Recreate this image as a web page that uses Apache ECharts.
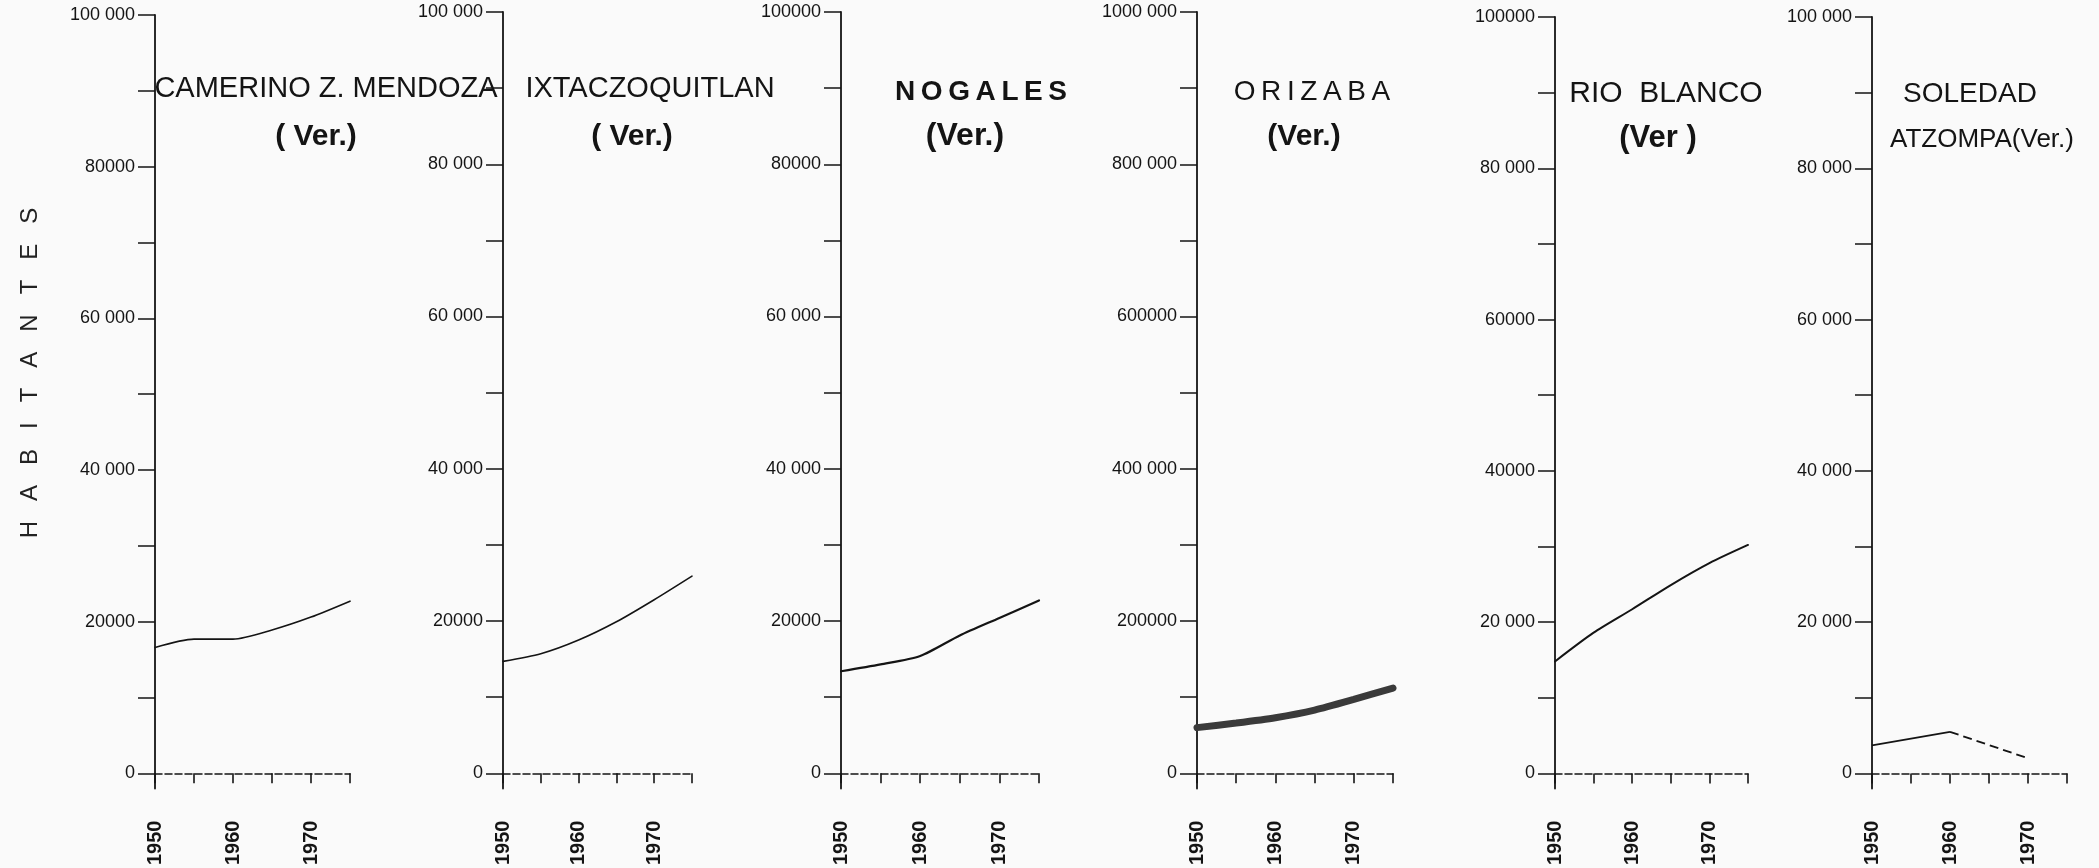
<!DOCTYPE html>
<html>
<head>
<meta charset="utf-8">
<script src="https://cdn.jsdelivr.net/npm/echarts@6/dist/echarts.min.js"></script>
<style>
  html, body { margin: 0; padding: 0; background: #fafafa; }
  #chart { width: 2099px; height: 868px; }
</style>
</head>
<body>
<div id="chart"></div>
<script>
// ---- data ----
const years = [1950, 1955, 1960, 1965, 1970, 1975];
const camerinoPop  = [16600, 17700, 17700, 18900, 20600, 22700];
const ixtacPop     = [14700, 15700, 17500, 19900, 22800, 25900];
const nogalesPop   = [13400, 14300, 15400, 18100, 20400, 22700];
const orizabaPop   = [60000, 66000, 73000, 83000, 97000, 112000];
const rioBlancoPop = [14800, 18600, 21700, 24900, 27800, 30200];
const soledadYears = [1950, 1960, 1970];
const soledadPop   = [3700, 5500, 2000];

const yearLabels = [1950, 1960, 1970];

const titleLine1 = ['CAMERINO Z. MENDOZA', 'IXTACZOQUITLAN', 'N\u2009O\u2009G\u2009A\u2009L\u2009E\u2009S',
                    'O\u2009R\u2009I\u2009Z\u2009A\u2009B\u2009A', 'RIO  BLANCO', 'SOLEDAD'];
const titleLine2 = ['( Ver.)', '( Ver.)', '(Ver.)', '(Ver.)', '(Ver )', 'ATZOMPA(Ver.)'];
const yAxisTitle = 'H   A   B   I   T   A   N   T   E   S';

// tick label texts as printed in each panel: 0, 1/5, 2/5 ... of the axis maximum
const yLabels = [
  ['0', '20000', '40 000', '60 000', '80000', '100 000'],
  ['0', '20000', '40 000', '60 000', '80 000', '100 000'],
  ['0', '20000', '40 000', '60 000', '80000', '100000'],
  ['0', '200000', '400 000', '600000', '800 000', '1000 000'],
  ['0', '20 000', '40000', '60000', '80 000', '100000'],
  ['0', '20 000', '40 000', '60 000', '80 000', '100 000']
];
const yMaxes = [100000, 100000, 100000, 1000000, 100000, 100000];

// ---- layout (pixels) ----
const panels = [
  { left: 155,  width: 195, top: 15, zeroY: 775 },
  { left: 503,  width: 189, top: 12, zeroY: 778 },
  { left: 841,  width: 198, top: 12, zeroY: 781 },
  { left: 1197, width: 196, top: 12, zeroY: 780 },
  { left: 1555, width: 193, top: 17, zeroY: 781 },
  { left: 1872, width: 195, top: 17, zeroY: 781 }
];
const titlePos = [
  { x1: 326,  y1: 89, x2: 316,  y2: 137, f1: 'normal 29px', f2: 'bold 30px' },
  { x1: 650,  y1: 89, x2: 632,  y2: 137, f1: 'normal 29px', f2: 'bold 30px' },
  { x1: 981,  y1: 92, x2: 965,  y2: 136, f1: 'bold 28px',   f2: 'bold 32px' },
  { x1: 1312, y1: 92, x2: 1304, y2: 137, f1: 'normal 28px', f2: 'bold 30px' },
  { x1: 1666, y1: 94, x2: 1658, y2: 138, f1: 'normal 30px', f2: 'bold 31px' },
  { x1: 1970, y1: 94, x2: 1982, y2: 140, f1: 'normal 28px', f2: 'normal 26px' }
];
const lineWidths = [1.6, 1.6, 2.2, 7, 2, 1.8];
const FONT = '"Liberation Sans", Arial, sans-serif';
const INK = '#141414';
const EXT = 0.02; // axis extends slightly below zero

const seriesPop = [camerinoPop, ixtacPop, nogalesPop, orizabaPop, rioBlancoPop];

const grids = [], xAxes = [], yAxes = [], series = [], graphics = [];

panels.forEach((p, i) => {
  const yMax = yMaxes[i];
  grids.push({
    left: p.left, top: p.top, width: p.width,
    height: (p.zeroY - p.top) * (1 + EXT)
  });
  xAxes.push({
    type: 'value', gridIndex: i, min: 1950, max: 1975, interval: 5,
    splitLine: { show: false },
    axisLine: { show: true, onZero: true, lineStyle: { color: INK, width: 1.5, type: [7, 3] } },
    axisTick: { show: true, length: 10, lineStyle: { color: INK, width: 1.6 } },
    axisLabel: {
      customValues: yearLabels, rotate: 90, margin: 32,
      fontSize: 20, fontWeight: 'bold', fontFamily: FONT, color: INK,
      formatter: v => String(v)
    }
  });
  const tickVals = [], labelVals = [];
  for (let k = 0; k <= 10; k++) tickVals.push(yMax * k / 10);
  for (let k = 0; k <= 5; k++) labelVals.push(yMax * k / 5);
  yAxes.push({
    type: 'value', gridIndex: i, min: -yMax * EXT, max: yMax,
    splitLine: { show: false },
    axisLine: { show: true, onZero: false, lineStyle: { color: INK, width: 1.8 } },
    axisTick: { show: true, customValues: tickVals, length: 17, lineStyle: { color: INK, width: 1.5 } },
    axisLabel: {
      customValues: labelVals, margin: 20,
      fontSize: 18, fontFamily: FONT, color: INK,
      formatter: v => {
        const idx = Math.round(v / (yMax / 5));
        return (Math.abs(v - idx * yMax / 5) < 1 && idx >= 0 && idx <= 5) ? yLabels[i][idx] : '';
      }
    }
  });
  if (i < 5) {
    series.push({
      type: 'line', xAxisIndex: i, yAxisIndex: i, symbol: 'none', smooth: 0.25,
      data: years.map((yr, k) => [yr, seriesPop[i][k]]),
      lineStyle: { color: i === 3 ? '#3a3a3a' : INK, width: lineWidths[i], cap: 'round' },
      silent: true
    });
  }
  const t = titlePos[i];
  graphics.push({
    type: 'text', x: t.x1, y: t.y1, silent: true,
    style: { text: titleLine1[i], font: t.f1 + ' ' + FONT, fill: INK,
             align: 'center', verticalAlign: 'middle', textAlign: 'center', textVerticalAlign: 'middle' }
  });
  graphics.push({
    type: 'text', x: t.x2, y: t.y2, silent: true,
    style: { text: titleLine2[i], font: t.f2 + ' ' + FONT, fill: INK,
             align: 'center', verticalAlign: 'middle', textAlign: 'center', textVerticalAlign: 'middle' }
  });
});

// Soledad Atzompa: solid 1950-1960, dashed 1960-1970
series.push({
  type: 'line', xAxisIndex: 5, yAxisIndex: 5, symbol: 'none',
  data: soledadYears.slice(0, 2).map((yr, k) => [yr, soledadPop[k]]),
  lineStyle: { color: INK, width: lineWidths[5] }, silent: true
});
series.push({
  type: 'line', xAxisIndex: 5, yAxisIndex: 5, symbol: 'none',
  data: soledadYears.slice(1).map((yr, k) => [yr, soledadPop[k + 1]]),
  lineStyle: { color: INK, width: lineWidths[5], type: [9, 5] }, silent: true
});

graphics.push({
  type: 'text', x: 30, y: 373, rotation: Math.PI / 2, silent: true,
  style: { text: yAxisTitle, font: 'normal 24px ' + FONT, fill: '#222',
           align: 'center', verticalAlign: 'middle', textAlign: 'center', textVerticalAlign: 'middle' }
});

const chart = echarts.init(document.getElementById('chart'), null, { renderer: 'canvas' });
chart.setOption({
  backgroundColor: '#fafafa',
  animation: false,
  grid: grids,
  xAxis: xAxes,
  yAxis: yAxes,
  series: series,
  graphic: { elements: graphics }
});
</script>
</body>
</html>
